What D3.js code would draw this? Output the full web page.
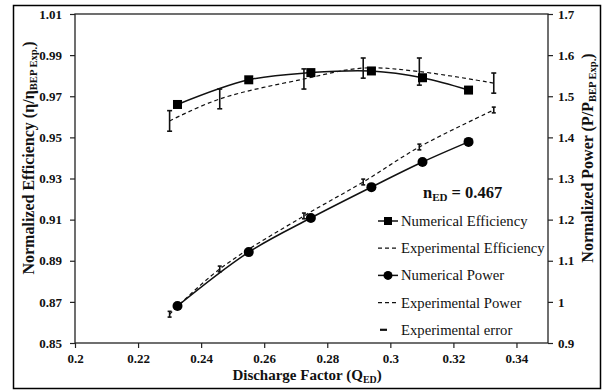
<!DOCTYPE html>
<html>
<head>
<meta charset="utf-8">
<script src="https://cdn.jsdelivr.net/npm/d3@7"></script>
<style>
  body { margin: 0; background: #fff; }
  svg { display: block; }
</style>
</head>
<body>
<svg></svg>
<script>
// Numerical results (squares = efficiency, circles = power)
const qNum = [0.2325, 0.2551, 0.2748, 0.2940, 0.3102, 0.3248];
const effNum = [0.966, 0.978, 0.9815, 0.9823, 0.979, 0.973];
const powNum = [0.990, 1.121, 1.204, 1.279, 1.340, 1.389];

// Experimental results with error
const qExp = [0.2300, 0.2459, 0.2726, 0.2914, 0.3092, 0.3328];
const effExp = [0.958, 0.9687, 0.9784, 0.9837, 0.9820, 0.9764];
const effErr = [0.005, 0.0048, 0.0049, 0.0049, 0.0066, 0.0049];
const powExp = [0.970, 1.080, 1.209, 1.2915, 1.3766, 1.4666];
const powErr = [0.007, 0.007, 0.007, 0.007, 0.007, 0.007];

const xTicks = ["0.2", "0.22", "0.24", "0.26", "0.28", "0.3", "0.32", "0.34"];
const yLeftTicks = ["0.85", "0.87", "0.89", "0.91", "0.93", "0.95", "0.97", "0.99", "1.01"];
const yRightTicks = ["0.9", "1", "1.1", "1.2", "1.3", "1.4", "1.5", "1.6", "1.7"];

const legendLabels = ["Numerical Efficiency", "Experimental Efficiency", "Numerical Power",
  "Experimental Power", "Experimental error"];

const FONT = "Liberation Serif";
const width = 605;
const height = 390;
const margin = {top: 14, right: 57, bottom: 47, left: 75};

const svg = d3.select("svg")
  .attr("width", width)
  .attr("height", height);

// outer frame
svg.append("rect")
  .attr("x", 13.5).attr("y", 5.5)
  .attr("width", 587).attr("height", 383)
  .attr("fill", "none")
  .attr("stroke", "#000")
  .attr("stroke-width", 1.5);

const x = d3.scaleLinear().domain([0.2, 0.35]).range([margin.left, width - margin.right]);
const yL = d3.scaleLinear().domain([0.85, 1.01]).range([height - margin.bottom, margin.top]);
const yR = d3.scaleLinear().domain([0.9, 1.7]).range([height - margin.bottom, margin.top]);

// plot box
svg.append("rect")
  .attr("x", x(0.2)).attr("y", margin.top)
  .attr("width", x(0.35) - x(0.2))
  .attr("height", height - margin.bottom - margin.top)
  .attr("fill", "none")
  .attr("stroke", "#222")
  .attr("stroke-width", 1.3);

function styleAxis(g) {
  g.attr("font-family", FONT).attr("font-size", 13).attr("font-weight", "bold");
  g.select(".domain").remove();
  g.selectAll(".tick line").attr("stroke", "#222").attr("stroke-width", 1.2);
  g.selectAll(".tick text").attr("fill", "#111");
}

svg.append("g")
  .attr("transform", `translate(0,${height - margin.bottom})`)
  .call(d3.axisBottom(x).tickValues(xTicks.map(Number)).tickFormat((d, i) => xTicks[i])
    .tickSize(5).tickPadding(6))
  .call(styleAxis);

svg.append("g")
  .attr("transform", `translate(${margin.left},0)`)
  .call(d3.axisLeft(yL).tickValues(yLeftTicks.map(Number)).tickFormat((d, i) => yLeftTicks[i])
    .tickSize(5).tickPadding(8))
  .call(styleAxis);

svg.append("g")
  .attr("transform", `translate(${width - margin.right},0)`)
  .call(d3.axisRight(yR).tickValues(yRightTicks.map(Number)).tickFormat((d, i) => yRightTicks[i])
    .tickSize(5).tickPadding(5))
  .call(styleAxis);

// axis titles
const title = (tx, ty, rot, size, main, sub, tail) => {
  const t = svg.append("text")
    .attr("transform", `translate(${tx},${ty}) rotate(${rot})`)
    .attr("text-anchor", "middle")
    .attr("font-family", FONT)
    .attr("font-weight", "bold")
    .attr("font-size", size)
    .attr("fill", "#111");
  t.append("tspan").text(main);
  t.append("tspan").attr("font-size", size * 0.66).attr("dy", 3).text(sub);
  t.append("tspan").attr("dy", -3).text(tail);
};
title(307, 380, 0, 15, "Discharge Factor (Q", "ED", ")");
title(34, 158, -90, 16, "Normalized Efficiency (\u03b7/\u03b7", "BEP Exp.", ")");
title(593, 158, -90, 16, "Normalized Power (P/P", "BEP Exp.", ")");

const line = (ys, yScale, xs) => d3.line()
  .x((d, i) => x(xs[i]))
  .y(d => yScale(d))
  .curve(d3.curveCatmullRom.alpha(0.5))(ys);

// experimental curves (dashed)
[[effExp, yL], [powExp, yR]].forEach(([ys, sc]) => {
  svg.append("path")
    .attr("d", line(ys, sc, qExp))
    .attr("fill", "none")
    .attr("stroke", "#111")
    .attr("stroke-width", 1.2)
    .attr("stroke-dasharray", "4,3");
});

// numerical curves (solid)
[[effNum, yL], [powNum, yR]].forEach(([ys, sc]) => {
  svg.append("path")
    .attr("d", line(ys, sc, qNum))
    .attr("fill", "none")
    .attr("stroke", "#111")
    .attr("stroke-width", 1.5);
});

// error bars
function errorBars(vals, errs, sc, cap) {
  const g = svg.append("g").attr("stroke", "#111").attr("stroke-width", 1.6);
  vals.forEach((v, i) => {
    const cx = x(qExp[i]);
    const y1 = sc(v - errs[i]), y2 = sc(v + errs[i]);
    g.append("line").attr("x1", cx).attr("x2", cx).attr("y1", y1).attr("y2", y2);
    g.append("line").attr("x1", cx - cap).attr("x2", cx + cap).attr("y1", y1).attr("y2", y1);
    g.append("line").attr("x1", cx - cap).attr("x2", cx + cap).attr("y1", y2).attr("y2", y2);
  });
}
errorBars(effExp, effErr, yL, 2.5);
errorBars(powExp, powErr, yR, 2);

// markers
svg.append("g").selectAll("rect")
  .data(effNum)
  .join("rect")
    .attr("x", (d, i) => x(qNum[i]) - 4.5)
    .attr("y", d => yL(d) - 4.5)
    .attr("width", 9).attr("height", 9)
    .attr("fill", "#000");

svg.append("g").selectAll("circle")
  .data(powNum)
  .join("circle")
    .attr("cx", (d, i) => x(qNum[i]))
    .attr("cy", d => yR(d))
    .attr("r", 5)
    .attr("fill", "#000");

// n_ED annotation
const ann = svg.append("text")
  .attr("x", 423).attr("y", 198)
  .attr("font-family", FONT)
  .attr("font-weight", "bold")
  .attr("font-size", 16.5)
  .attr("fill", "#111");
ann.append("tspan").text("n");
ann.append("tspan").attr("font-size", 11).attr("dy", 3).text("ED");
ann.append("tspan").attr("dy", -3).text(" = 0.467");

// legend
const legend = svg.append("g").attr("transform", "translate(378,221)");
legendLabels.forEach((label, i) => {
  const g = legend.append("g").attr("transform", `translate(0,${i * 27.2})`);
  if (i === 4) {
    g.append("line").attr("x1", 2).attr("x2", 9).attr("stroke", "#111").attr("stroke-width", 2.2);
  } else {
    g.append("line").attr("x1", 0).attr("x2", 20)
      .attr("stroke", "#111")
      .attr("stroke-width", i % 2 ? 1.2 : 1.5)
      .attr("stroke-dasharray", i % 2 ? "4,3" : null);
  }
  if (i === 0) g.append("rect").attr("x", 6).attr("y", -4).attr("width", 8).attr("height", 8).attr("fill", "#000");
  if (i === 2) g.append("circle").attr("cx", 10).attr("r", 4.5).attr("fill", "#000");
  g.append("text")
    .attr("x", 23).attr("y", 5)
    .attr("font-family", FONT)
    .attr("font-size", 14.7)
    .attr("fill", "#111")
    .text(label);
});
</script>
</body>
</html>
